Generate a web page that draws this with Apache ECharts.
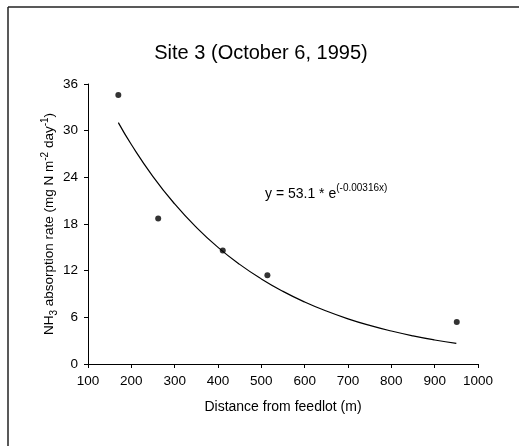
<!DOCTYPE html>
<html>
<head>
<meta charset="utf-8">
<script src="https://cdn.jsdelivr.net/npm/echarts@6/dist/echarts.min.js"></script>
<style>
  html, body { margin: 0; padding: 0; background: #fff; }
  #main { width: 519px; height: 446px; }
</style>
</head>
<body>
<div id="main"></div>
<script>
// measured points
const distance = [170, 262, 411, 514, 951]
const absorption = [34.6, 18.7, 14.6, 11.4, 5.4]

// fitted curve y = 53.1 * e^(-0.00316x), values read at these distances
const curveX = [170, 200, 250, 300, 350, 400, 450, 500, 550, 600, 650, 700, 750, 800, 850, 900, 950]
const curveY = [31.03, 28.22, 24.10, 20.58, 17.57, 15.00, 12.81, 10.94, 9.34, 7.97, 6.81, 5.81, 4.96, 4.24, 3.62, 3.09, 2.64]

const font = "'Liberation Sans', Arial, sans-serif"

const chart = echarts.init(document.getElementById("main"))

const option = {
  backgroundColor: "#fff",
  animation: false,
  textStyle: { fontFamily: font, color: "#000" },
  title: {
    text: "Site 3 (October 6, 1995)",
    left: 256,
    top: 38,
    textAlign: "center",
    textStyle: { fontFamily: font, fontSize: 20, fontWeight: "normal", color: "#000" },
  },
  grid: {
    left: 88,
    right: 41,
    top: 84,
    bottom: 82,
    containLabel: false,
    outerBoundsMode: "none",
  },
  xAxis: {
    type: "value",
    min: 100,
    max: 1000,
    interval: 100,
    name: "Distance from feedlot (m)",
    nameLocation: "middle",
    nameGap: 36,
    nameMoveOverlap: false,
    nameTextStyle: { fontFamily: font, fontSize: 14, color: "#000" },
    axisLine: { show: true, onZero: false, lineStyle: { color: "#000", width: 1 } },
    axisTick: { show: true, inside: false, length: 4, lineStyle: { color: "#000" } },
    axisLabel: { fontFamily: font, fontSize: 13.5, color: "#000", margin: 10, formatter: (v) => String(v) },
    splitLine: { show: false },
  },
  yAxis: {
    type: "value",
    min: 0,
    max: 36,
    interval: 6,
    name: "NH{sub|3} absorption rate (mg N m{sup|-2} day{sup|-1})",
    nameLocation: "middle",
    nameRotate: 90,
    nameGap: 29,
    nameMoveOverlap: false,
    nameTextStyle: {
      fontFamily: font,
      fontSize: 13.5,
      color: "#000",
      lineHeight: 19,
      rich: {
        sub: { fontFamily: font, fontSize: 10, color: "#000", verticalAlign: "bottom", lineHeight: 19 },
        sup: { fontFamily: font, fontSize: 10, color: "#000", verticalAlign: "top", lineHeight: 19 },
      },
    },
    axisLine: { show: true, lineStyle: { color: "#000", width: 1 } },
    axisTick: { show: true, inside: false, length: 4, lineStyle: { color: "#000" } },
    axisLabel: { fontFamily: font, fontSize: 13.5, color: "#000", margin: 10 },
    splitLine: { show: false },
  },
  graphic: [
    {
      type: "line",
      shape: { x1: 8, y1: 7, x2: 519, y2: 7 },
      style: { stroke: "#222", lineWidth: 1.5 },
    },
    {
      type: "line",
      shape: { x1: 8, y1: 7, x2: 8, y2: 446 },
      style: { stroke: "#222", lineWidth: 1.5 },
    },
    {
      type: "text",
      left: 265,
      top: 183,
      style: {
        text: "y = 53.1 * e{sup|(-0.00316x)}",
        fontFamily: font,
        fontSize: 14,
        fill: "#000",
        lineHeight: 22,
        rich: {
          sup: { fontFamily: font, fontSize: 10, fill: "#000", verticalAlign: "top", lineHeight: 22 },
        },
      },
    },
  ],
  series: [
    {
      name: "fit",
      type: "line",
      data: curveX.map((x, i) => [x, curveY[i]]),
      smooth: true,
      showSymbol: false,
      lineStyle: { color: "#000", width: 1.2 },
      z: 2,
    },
    {
      name: "measured",
      type: "scatter",
      data: distance.map((x, i) => [x, absorption[i]]),
      symbol: "circle",
      symbolSize: 6,
      itemStyle: { color: "#000" },
      z: 3,
    },
  ],
}

option && chart.setOption(option)
</script>
</body>
</html>
